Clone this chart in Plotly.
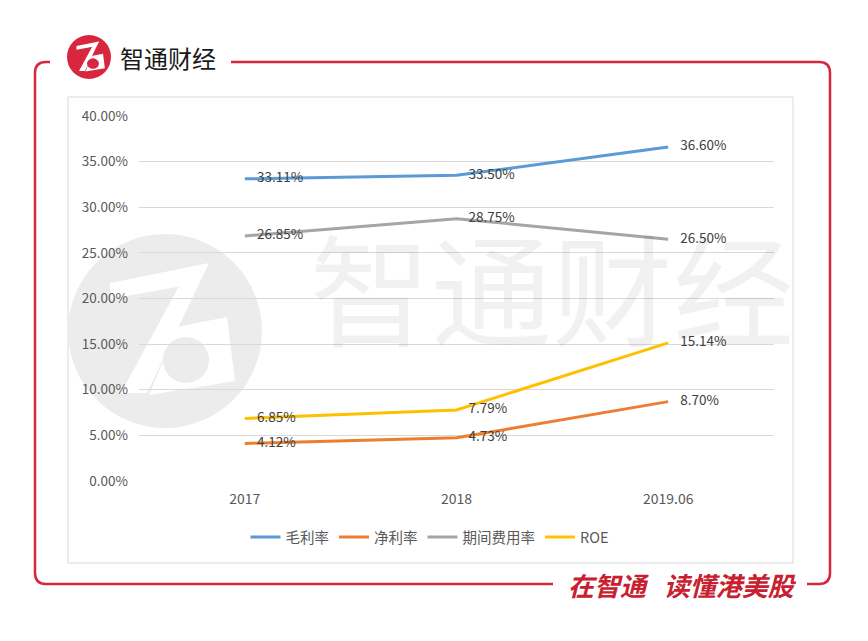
# 智通财经 style line chart: margins and expense ratios 2017 - 2019.06
import plotly.graph_objects as go

# data (percent)
periods = ["2017", "2018", "2019.06"]
gross_margin = [33.11, 33.50, 36.60]     # 毛利率
net_margin = [4.12, 4.73, 8.70]          # 净利率
expense_ratio = [26.85, 28.75, 26.50]    # 期间费用率
roe = [6.85, 7.79, 15.14]                # ROE

series_names = ["毛利率", "净利率", "期间费用率", "ROE"]
y_ticks = [0, 5, 10, 15, 20, 25, 30, 35, 40]

# figure geometry in pixels
W, H = 868, 641
L, R, T, B = 139, 94, 116, 160
PW, PH = W - L - R, H - T - B

RED = "#d7263d"
FONT = "Noto Sans CJK SC, Noto Sans, sans-serif"


def px(x):
    return (x - L) / PW


def py(y):
    return (H - B - y) / PH


def path(points, close=False):
    s = "M " + " L ".join(f"{px(x):.5f},{py(y):.5f}" for x, y in points)
    return s + (" Z" if close else "")


def qpath(cmds):
    # cmds: list of ("M"/"L"/"Q", points)
    out = []
    for c, pts in cmds:
        out.append(c + " " + " ".join(f"{px(x):.5f},{py(y):.5f}" for x, y in pts))
    return " ".join(out)


shapes = []

# red outer frame, with gaps for logo and slogan
shapes.append(dict(type="path", xref="paper", yref="paper", layer="above",
                   path=qpath([("M", [(50, 62)]), ("L", [(46, 62)]),
                               ("Q", [(35, 62), (35, 73)]), ("L", [(35, 573)]),
                               ("Q", [(35, 584), (46, 584)]), ("L", [(553, 584)])]),
                   line=dict(color=RED, width=2.5)))
shapes.append(dict(type="path", xref="paper", yref="paper", layer="above",
                   path=qpath([("M", [(231, 62)]), ("L", [(819, 62)]),
                               ("Q", [(830, 62), (830, 73)]), ("L", [(830, 573)]),
                               ("Q", [(830, 584), (819, 584)]), ("L", [(807, 584)])]),
                   line=dict(color=RED, width=2.5)))

# inner chart box
shapes.append(dict(type="rect", xref="paper", yref="paper", layer="below",
                   x0=px(68), x1=px(793), y0=py(563), y1=py(97),
                   line=dict(color="#d9d9d9", width=1), fillcolor="rgba(0,0,0,0)"))


def logo(cx, cy, r, bg, fg, layer):
    s = r / 97.0
    pt = lambda a, b: (cx + a * s, cy + b * s)
    items = [dict(type="circle", xref="paper", yref="paper", layer=layer,
                  x0=px(cx - r), x1=px(cx + r), y0=py(cy + r), y1=py(cy - r),
                  fillcolor=bg, line=dict(width=0))]
    bar = [pt(-55, -48), pt(44, -68), pt(34, -48), pt(-55, -32)]
    diag = [pt(44, -68), pt(20, -56), pt(-44, 62), pt(-18, 62)]
    loop = [pt(12, -4), pt(62, -14), pt(70, 50), pt(-16, 64)]
    for poly in (bar, diag, loop):
        items.append(dict(type="path", xref="paper", yref="paper", layer=layer,
                          path=path(poly, close=True), fillcolor=fg, line=dict(width=0)))
    items.append(dict(type="circle", xref="paper", yref="paper", layer=layer,
                      x0=px(cx - 2), x1=px(cx + 44 * s),
                      y0=py(cy + 52 * s), y1=py(cy + 6 * s),
                      fillcolor=bg, line=dict(width=0)))
    return items


# watermark logo and header logo
shapes += logo(165, 331, 97, "#ececec", "#ffffff", "below")
shapes += logo(89, 57, 22, RED, "#ffffff", "above")

fig = go.Figure()

colors = ["#5B9BD5", "#ED7D31", "#A5A5A5", "#FFC000"]
for name, vals, col in zip(series_names,
                           [gross_margin, net_margin, expense_ratio, roe], colors):
    fig.add_trace(go.Scatter(
        x=periods, y=vals, name=name, mode="lines+text",
        line=dict(color=col, width=3),
        text=["\u00a0" * 4 + f"{v:.2f}%" for v in vals],
        textposition="middle right",
        textfont=dict(family=FONT, size=13.5, color="#404040"),
        hoverinfo="skip", cliponaxis=False,
    ))

annotations = [
    # header
    dict(text="智通财经", x=px(118), y=py(57), xref="paper", yref="paper",
         xanchor="left", yanchor="middle", showarrow=False,
         font=dict(family=FONT, size=24, color="#1a1a1a")),
    # slogan
    dict(text="<b><i>在智通\u00a0\u00a0\u00a0读懂港美股</i></b>", x=px(566), y=py(584),
         xref="paper", yref="paper", xanchor="left", yanchor="middle",
         showarrow=False, bgcolor="rgba(0,0,0,0)",
         font=dict(family=FONT, size=26, color="#c8202f")),
    # watermark text
    dict(text="智通财经", x=px(308), y=py(284), xref="paper", yref="paper",
         xanchor="left", yanchor="middle", showarrow=False,
         font=dict(family=FONT, size=121, color="rgba(0,0,0,0.055)")),
]

fig.update_layout(
    width=W, height=H,
    margin=dict(l=L, r=R, t=T, b=B),
    paper_bgcolor="white", plot_bgcolor="rgba(0,0,0,0)",
    font=dict(family=FONT, size=13, color="#595959"),
    shapes=shapes, annotations=annotations,
    showlegend=True,
    legend=dict(orientation="h", xref="paper", yref="paper",
                x=px(430), y=py(537), xanchor="center", yanchor="middle",
                font=dict(family=FONT, size=14.5, color="#595959"),
                itemwidth=30, bgcolor="rgba(0,0,0,0)"),
)
fig.update_xaxes(type="category", range=[-0.5, 2.5], showgrid=False,
                 showline=False, zeroline=False, ticks="",
                 ticklabelstandoff=8,
                 tickfont=dict(family=FONT, size=14, color="#595959"))
fig.update_yaxes(range=[0, 40], tickvals=y_ticks,
                 ticktext=[f"{v:.2f}%" for v in y_ticks],
                 showgrid=True, gridcolor="#d9d9d9", gridwidth=1,
                 zeroline=False, showline=False, ticks="",
                 ticklabelstandoff=10,
                 tickfont=dict(family=FONT, size=13.5, color="#595959"))

fig.write_html("out.html", config={"displayModeBar": False},
               post_script="document.body.style.margin='0';")
